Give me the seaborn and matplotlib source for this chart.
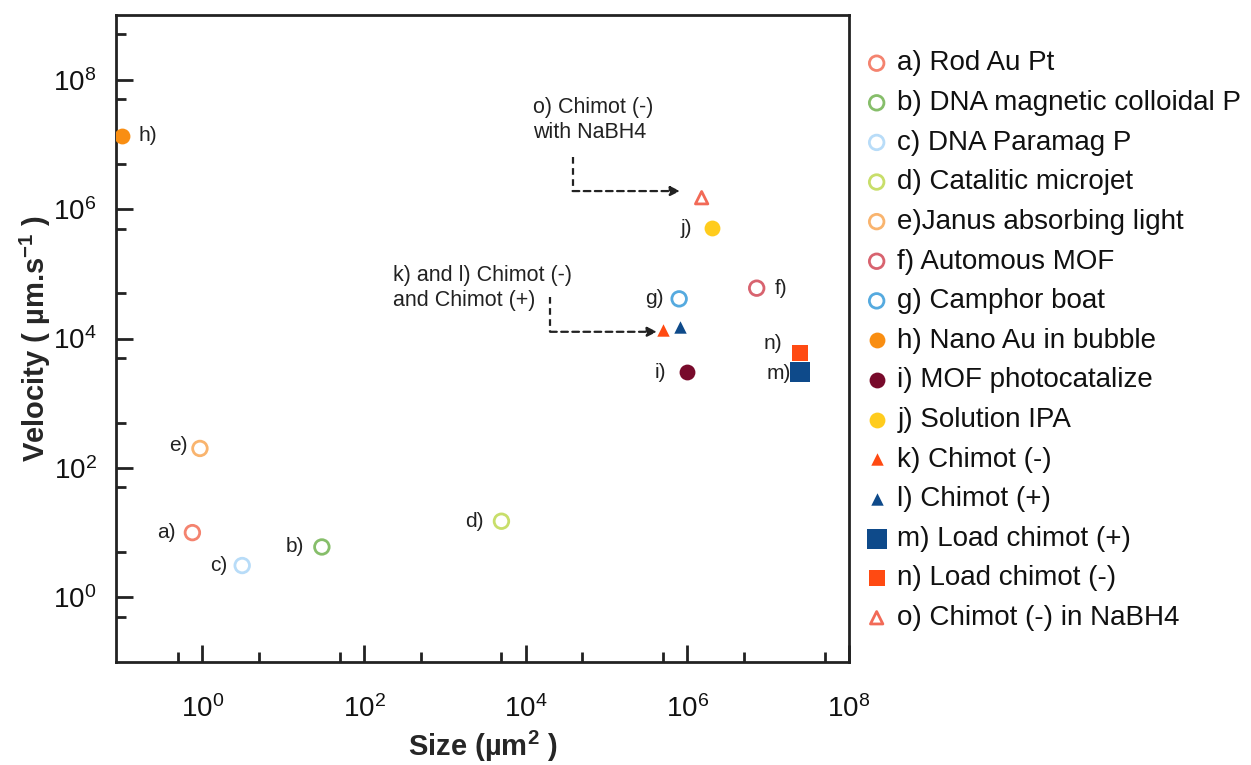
import numpy as np
import pandas as pd
import matplotlib
matplotlib.use("Agg")
import matplotlib.pyplot as plt
from matplotlib.ticker import FixedLocator, FuncFormatter, NullFormatter
import seaborn as sns

# ---- data -------------------------------------------------------------
labels = [
    "a) Rod Au Pt", "b) DNA magnetic colloidal P", "c) DNA Paramag P",
    "d) Catalitic microjet", "e)Janus absorbing light", "f) Automous MOF",
    "g) Camphor boat", "h) Nano Au in bubble", "i) MOF photocatalize",
    "j) Solution IPA", "k) Chimot (-)", "l) Chimot (+)",
    "m) Load chimot (+)", "n) Load chimot (-)", "o) Chimot (-) in NaBH4",
]
tags = ["a)", "b)", "c)", "d)", "e)", "f)", "g)", "h)", "i)", "j)",
        "k)", "l)", "m)", "n)", "o)"]
size_um2 = [0.75, 30, 3.1, 5000, 0.93, 7.2e6, 7.9e5, 0.1, 1.0e6, 2.0e6,
            5.0e5, 8.0e5, 2.5e7, 2.5e7, 1.5e6]
velocity = [10, 6, 3.1, 15, 200, 6.0e4, 4.1e4, 1.35e7, 3.0e3, 5.1e5,
            1.35e4, 1.5e4, 3.0e3, 6.0e3, 1.5e6]

# ---- styling ----------------------------------------------------------
colors = ["#F4836F", "#86BE6A", "#B8DCF8", "#C8DE6A", "#F9B46E", "#D8636F",
          "#55AADF", "#F98E12", "#780A2B", "#FFCC1D", "#FF4A12", "#0E4A8A",
          "#0E4A8A", "#FF4A12", "#F26A57"]
markers = ["o", "o", "o", "o", "o", "o", "o", "o", "o", "o",
           "^", "^", "s", "s", "^"]
filled = [False] * 7 + [True] * 7 + [False]
msizes = [110, 110, 110, 110, 110, 110, 110, 130, 130, 130,
          80, 80, 190, 130, 80]
# point-label offsets in points (dx, dy) and alignment
tag_off = {
    "a)": (-12, 0, "right"), "b)": (-13, 0, "right"), "c)": (-11, 0, "right"),
    "d)": (-13, 0, "right"), "e)": (-9, 2, "right"), "f)": (13, 0, "left"),
    "g)": (-11, 0, "right"), "h)": (12, 0, "left"), "i)": (-15, 0, "right"),
    "j)": (-14, 0, "right"), "m)": (-7, -1, "right"), "n)": (-13, 7, "right"),
}

sns.set_style("white")
plt.rcParams["font.family"] = ["Liberation Sans", "DejaVu Sans"]
plt.rcParams["mathtext.default"] = "regular"

fig = plt.figure(figsize=(12.51, 7.65), dpi=100)
ax = fig.add_axes([0.0927, 0.1346, 0.586, 0.8458])

for i in range(len(labels)):
    if filled[i]:
        kw = dict(color=colors[i], edgecolor=colors[i], linewidth=0)
    else:
        kw = dict(color=colors[i], facecolor="none", edgecolor=colors[i],
                  linewidth=2.0)
    sns.scatterplot(x=[size_um2[i]], y=[velocity[i]], marker=markers[i],
                    s=msizes[i], ax=ax, label=labels[i], zorder=3, **kw)

for i, t in enumerate(tags):
    if t in tag_off:
        dx, dy, ha = tag_off[t]
        ax.annotate(t, (size_um2[i], velocity[i]), xytext=(dx, dy),
                    textcoords="offset points", ha=ha, va="center",
                    fontsize=15, color="#222222")

ax.set_xscale("log")
ax.set_yscale("log")
ax.set_xlim(0.085, 1e8)
ax.set_ylim(1e-1, 1e9)

xmaj = [1e0, 1e2, 1e4, 1e6, 1e8]
ymaj = [1e0, 1e2, 1e4, 1e6, 1e8]
minors = [5 * 10.0 ** k for k in range(-1, 9)]
fmt = FuncFormatter(lambda v, p: r"$10^{%d}$" % int(round(np.log10(v))))
for axis, maj in ((ax.xaxis, xmaj), (ax.yaxis, ymaj)):
    axis.set_major_locator(FixedLocator(maj))
    axis.set_minor_locator(FixedLocator(minors))
    axis.set_major_formatter(fmt)
    axis.set_minor_formatter(NullFormatter())

ax.tick_params(which="both", bottom=True, left=True, top=False, right=False)
ax.tick_params(which="major", direction="in", length=12, width=2,
               labelsize=20, color="#222222", labelcolor="#111111")
ax.tick_params(which="minor", direction="in", length=7, width=2,
               color="#222222")
ax.tick_params(axis="x", which="major", pad=24)
ax.tick_params(axis="y", which="major", pad=14)
for sp in ax.spines.values():
    sp.set_visible(True)
    sp.set_linewidth(2)
    sp.set_color("#222222")

ax.set_xlabel(r"Size (µm$^{2}$ )", fontsize=21, fontweight="bold", labelpad=4)
ax.set_ylabel(r"Velocity ( µm.s$^{-1}$ )", fontsize=21, fontweight="bold",
              labelpad=0)

# callout for the NaBH4 run
ax.text(1.23e4, 2.4e7, "o) Chimot (-)\nwith NaBH4", fontsize=15.5,
        ha="left", va="center", color="#222222", linespacing=1.25)
ax.plot([3.8e4, 3.8e4], [6.3e6, 1.9e6], ls=(0, (3, 2)), lw=1.6,
        color="#222222")
ax.annotate("", xy=(8.1e5, 1.9e6), xytext=(3.8e4, 1.9e6),
            arrowprops=dict(arrowstyle="-|>", ls=(0, (3, 2)), lw=1.6,
                            color="#222222", mutation_scale=14,
                            shrinkA=0, shrinkB=0))

# callout for the k/l pair
ax.text(226, 6.0e4, "k) and l) Chimot (-)\nand Chimot (+)", fontsize=15.5,
        ha="left", va="center", color="#222222", linespacing=1.25)
ax.plot([2.0e4, 2.0e4], [4.4e4, 1.27e4], ls=(0, (3, 2)), lw=1.6,
        color="#222222")
ax.annotate("", xy=(4.2e5, 1.27e4), xytext=(2.0e4, 1.27e4),
            arrowprops=dict(arrowstyle="-|>", ls=(0, (3, 2)), lw=1.6,
                            color="#222222", mutation_scale=14,
                            shrinkA=0, shrinkB=0))

leg = ax.legend(loc="upper left", bbox_to_anchor=(0.693, 0.934),
                bbox_transform=fig.transFigure, frameon=False, fontsize=20,
                handlelength=0.7, handletextpad=0.4, labelspacing=0.49,
                borderaxespad=0, borderpad=0)
for t in leg.get_texts():
    t.set_color("#111111")

fig.savefig("out.png", dpi=100)
